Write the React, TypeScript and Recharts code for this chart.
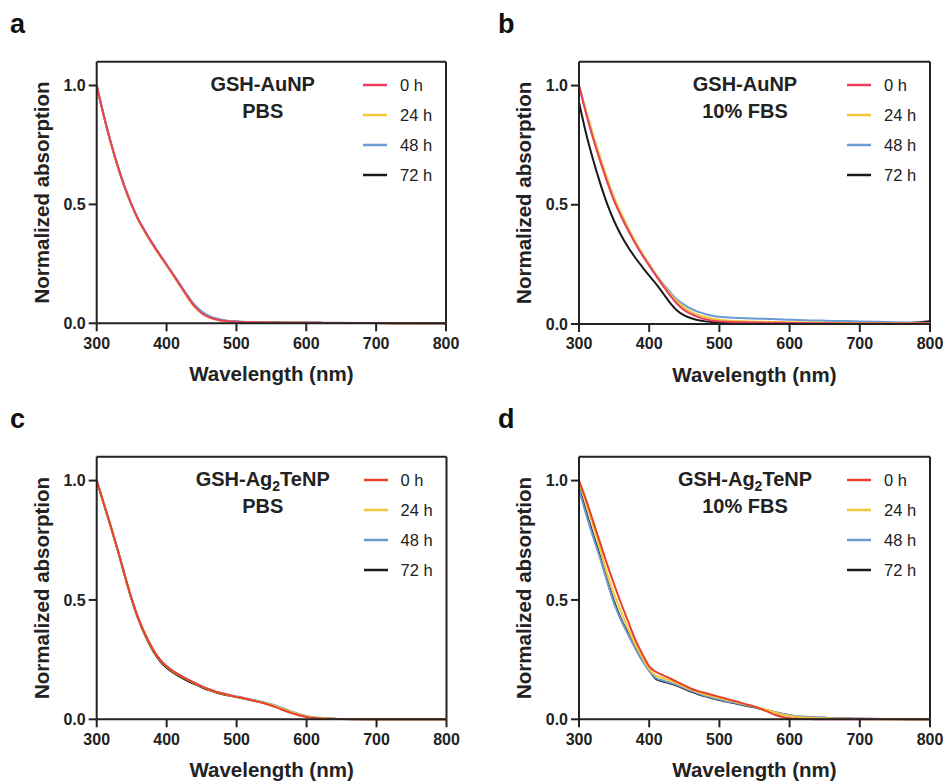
import React from 'react';
import { LineChart, Line, XAxis, YAxis, Legend, ReferenceLine } from 'recharts';

// ---------- data ----------
const WAVELENGTH = [
  300, 310, 320, 330, 340, 350, 360, 370, 380, 390,
  400, 410, 420, 430, 440, 450, 460, 470, 480, 490,
  500, 510, 520, 530, 540, 550, 560, 570, 580, 590,
  600, 610, 620, 630, 640, 650, 700, 750, 800,
];
const TIME_LABELS = ['0 h', '24 h', '48 h', '72 h'];
const X_TICKS = [300, 400, 500, 600, 700, 800];
const Y_TICKS = [0, 0.5, 1.0];

// Panel a: GSH-AuNP in PBS
const A_0H = [1.0, 0.875, 0.762, 0.662, 0.574, 0.498, 0.434, 0.382, 0.334, 0.289, 0.246, 0.202, 0.157, 0.112, 0.072, 0.044, 0.027, 0.017, 0.011, 0.008, 0.006, 0.005, 0.004, 0.004, 0.003, 0.003, 0.003, 0.002, 0.002, 0.002, 0.002, 0.002, 0.002, 0.001, 0.001, 0.001, 0.001, 0.0, 0.0];
const A_24H = [1.0, 0.873, 0.759, 0.659, 0.571, 0.495, 0.43, 0.378, 0.33, 0.285, 0.242, 0.198, 0.153, 0.108, 0.069, 0.042, 0.025, 0.016, 0.01, 0.007, 0.005, 0.004, 0.004, 0.003, 0.003, 0.003, 0.002, 0.002, 0.002, 0.002, 0.002, 0.001, 0.001, 0.001, 0.001, 0.001, 0.001, 0.0, 0.0];
const A_48H = [1.0, 0.876, 0.763, 0.663, 0.575, 0.5, 0.436, 0.384, 0.336, 0.291, 0.248, 0.205, 0.161, 0.117, 0.078, 0.05, 0.032, 0.021, 0.014, 0.01, 0.008, 0.006, 0.005, 0.005, 0.004, 0.004, 0.004, 0.003, 0.003, 0.003, 0.003, 0.003, 0.002, 0.002, 0.002, 0.002, 0.001, 0.001, 0.0];
const A_72H = [1.0, 0.875, 0.761, 0.661, 0.573, 0.497, 0.433, 0.381, 0.333, 0.288, 0.245, 0.202, 0.158, 0.114, 0.075, 0.047, 0.029, 0.019, 0.012, 0.009, 0.007, 0.005, 0.005, 0.004, 0.004, 0.003, 0.003, 0.003, 0.002, 0.002, 0.002, 0.002, 0.002, 0.001, 0.001, 0.001, 0.001, 0.0, 0.0];

// Panel b: GSH-AuNP in 10% FBS
const B_0H = [1.0, 0.885, 0.78, 0.685, 0.597, 0.517, 0.452, 0.393, 0.339, 0.29, 0.245, 0.201, 0.159, 0.119, 0.084, 0.058, 0.041, 0.029, 0.02, 0.014, 0.011, 0.009, 0.008, 0.007, 0.007, 0.006, 0.006, 0.005, 0.005, 0.005, 0.004, 0.004, 0.004, 0.003, 0.003, 0.003, 0.002, 0.002, 0.003];
const B_24H = [1.0, 0.895, 0.795, 0.702, 0.613, 0.532, 0.465, 0.404, 0.348, 0.297, 0.251, 0.206, 0.164, 0.126, 0.093, 0.068, 0.051, 0.038, 0.029, 0.022, 0.018, 0.015, 0.013, 0.012, 0.011, 0.01, 0.009, 0.009, 0.008, 0.008, 0.007, 0.007, 0.006, 0.006, 0.006, 0.005, 0.004, 0.003, 0.003];
const B_48H = [1.0, 0.886, 0.782, 0.69, 0.601, 0.521, 0.456, 0.396, 0.342, 0.293, 0.249, 0.206, 0.168, 0.133, 0.102, 0.08, 0.063, 0.051, 0.042, 0.035, 0.03, 0.028, 0.026, 0.025, 0.024, 0.023, 0.022, 0.021, 0.02, 0.019, 0.018, 0.017, 0.016, 0.015, 0.015, 0.014, 0.011, 0.007, 0.004];
const B_72H = [0.93, 0.8, 0.69, 0.592, 0.505, 0.432, 0.372, 0.322, 0.279, 0.24, 0.203, 0.167, 0.128, 0.088, 0.056, 0.036, 0.024, 0.016, 0.011, 0.008, 0.005, 0.004, 0.003, 0.003, 0.002, 0.002, 0.002, 0.002, 0.002, 0.001, 0.001, 0.001, 0.001, 0.001, 0.001, 0.001, 0.001, 0.002, 0.012];

// Panel c: GSH-Ag2TeNP in PBS
const C_0H = [1.0, 0.905, 0.81, 0.71, 0.605, 0.505, 0.42, 0.352, 0.295, 0.252, 0.222, 0.2, 0.183, 0.167, 0.152, 0.138, 0.126, 0.116, 0.108, 0.101, 0.094, 0.088, 0.081, 0.074, 0.066, 0.057, 0.046, 0.035, 0.025, 0.016, 0.01, 0.005, 0.003, 0.002, 0.001, 0.001, 0.0, 0.0, 0.0];
const C_24H = [1.0, 0.904, 0.809, 0.709, 0.604, 0.504, 0.419, 0.351, 0.294, 0.251, 0.221, 0.199, 0.182, 0.166, 0.151, 0.137, 0.125, 0.115, 0.107, 0.1, 0.094, 0.088, 0.082, 0.075, 0.068, 0.06, 0.05, 0.039, 0.029, 0.02, 0.013, 0.008, 0.005, 0.003, 0.002, 0.001, 0.0, 0.0, 0.0];
const C_48H = [1.0, 0.905, 0.81, 0.71, 0.605, 0.505, 0.42, 0.352, 0.295, 0.252, 0.222, 0.2, 0.183, 0.167, 0.152, 0.139, 0.127, 0.117, 0.109, 0.102, 0.096, 0.09, 0.084, 0.078, 0.071, 0.063, 0.053, 0.042, 0.031, 0.021, 0.014, 0.009, 0.006, 0.004, 0.002, 0.001, 0.0, 0.0, 0.0];
const C_72H = [1.0, 0.904, 0.808, 0.708, 0.602, 0.501, 0.415, 0.346, 0.289, 0.246, 0.216, 0.194, 0.177, 0.161, 0.147, 0.134, 0.122, 0.113, 0.105, 0.099, 0.093, 0.087, 0.081, 0.075, 0.068, 0.06, 0.05, 0.039, 0.028, 0.019, 0.012, 0.007, 0.004, 0.003, 0.002, 0.001, 0.0, 0.0, 0.0];

// Panel d: GSH-Ag2TeNP in 10% FBS
const D_0H = [1.0, 0.92, 0.83, 0.74, 0.65, 0.565, 0.485, 0.41, 0.335, 0.275, 0.222, 0.198, 0.184, 0.171, 0.157, 0.142, 0.128, 0.118, 0.11, 0.102, 0.094, 0.086, 0.078, 0.07, 0.061, 0.053, 0.042, 0.03, 0.018, 0.01, 0.004, 0.002, 0.001, 0.001, 0.0, 0.0, 0.0, 0.0, 0.0];
const D_24H = [0.99, 0.905, 0.812, 0.715, 0.61, 0.525, 0.45, 0.38, 0.315, 0.26, 0.21, 0.182, 0.172, 0.162, 0.15, 0.137, 0.124, 0.113, 0.104, 0.096, 0.089, 0.082, 0.075, 0.068, 0.061, 0.054, 0.046, 0.037, 0.028, 0.02, 0.014, 0.011, 0.008, 0.006, 0.005, 0.004, 0.001, 0.0, 0.0];
const D_48H = [0.965, 0.86, 0.765, 0.675, 0.578, 0.485, 0.415, 0.355, 0.298, 0.246, 0.203, 0.172, 0.162, 0.153, 0.143, 0.131, 0.119, 0.108, 0.098, 0.09, 0.083, 0.076, 0.07, 0.064, 0.058, 0.051, 0.044, 0.037, 0.03, 0.023, 0.017, 0.013, 0.011, 0.009, 0.008, 0.007, 0.002, 0.001, 0.0];
const D_72H = [0.975, 0.87, 0.775, 0.684, 0.584, 0.493, 0.42, 0.36, 0.302, 0.25, 0.205, 0.168, 0.158, 0.15, 0.14, 0.128, 0.116, 0.105, 0.096, 0.088, 0.081, 0.074, 0.068, 0.062, 0.056, 0.05, 0.043, 0.036, 0.029, 0.022, 0.016, 0.012, 0.01, 0.008, 0.007, 0.006, 0.002, 0.001, 0.0];

// ---------- styling ----------
const FONT = '"Liberation Sans", Arial, Helvetica, sans-serif';
const AXIS = '#222222';
const COLORS_AU = ['#e8405e', '#f2c83a', '#6b9bd2', '#1a1a1a'];
const COLORS_AG = ['#e8402c', '#f2c83a', '#6b9bd2', '#1a1a1a'];
const KEYS = ['h0', 'h24', 'h48', 'h72'];
const Y_AXIS_W = 40;
const X_AXIS_H = 30;

function buildRows(series: number[][]) {
  return WAVELENGTH.map((w, i) => ({
    w,
    h0: series[0][i],
    h24: series[1][i],
    h48: series[2][i],
    h72: series[3][i],
  }));
}

type PanelProps = {
  letter: string;
  left: number;
  top: number;
  width: number;
  height: number;
  plot: { top: number; right: number; bottom: number; left: number };
  data: any[];
  colors: string[];
  title1: React.ReactNode;
  title2: string;
  letterX: number;
};

function Panel(p: PanelProps) {
  const plotLeft = p.plot.left;
  const plotTop = p.plot.top;
  const plotRight = p.plot.right;
  const plotBottom = p.plot.bottom;
  const margin = {
    top: plotTop,
    left: plotLeft - Y_AXIS_W,
    right: p.width - plotRight,
    bottom: p.height - plotBottom - X_AXIS_H,
  };
  const cx = (plotLeft + plotRight) / 2;
  const cy = (plotTop + plotBottom) / 2;
  const annX = plotLeft + 166;

  const renderLegend = () => (
    <div style={{ fontFamily: FONT }}>
      {TIME_LABELS.map((lab, i) => (
        <div key={lab} style={{ display: 'flex', alignItems: 'center', height: 30 }}>
          <svg width={24} height={4} style={{ display: 'block' }}>
            <line x1={0} y1={2} x2={24} y2={2} stroke={p.colors[i]} strokeWidth={2.5} />
          </svg>
          <span style={{ marginLeft: 13, fontSize: 16.5, color: AXIS, lineHeight: '30px' }}>{lab}</span>
        </div>
      ))}
    </div>
  );

  const order = [3, 2, 1, 0];
  const tickStyle = { fontSize: 16, fontWeight: 'bold', fill: AXIS, fontFamily: FONT };

  return (
    <div style={{ position: 'absolute', left: p.left, top: p.top, width: p.width, height: p.height }}>
      <LineChart width={p.width} height={p.height} data={p.data} margin={margin}>
        <XAxis
          dataKey="w"
          type="number"
          domain={[300, 800]}
          ticks={X_TICKS}
          height={X_AXIS_H}
          tickSize={8}
          tickMargin={6}
          axisLine={{ stroke: AXIS, strokeWidth: 2 }}
          tickLine={{ stroke: AXIS, strokeWidth: 2 }}
          tick={tickStyle}
        />
        <YAxis
          type="number"
          domain={[0, 1.1]}
          ticks={Y_TICKS}
          width={Y_AXIS_W}
          tickSize={8}
          tickMargin={3}
          tickFormatter={(v: number) => v.toFixed(1)}
          axisLine={{ stroke: AXIS, strokeWidth: 2 }}
          tickLine={{ stroke: AXIS, strokeWidth: 2 }}
          tick={tickStyle}
        />
        <ReferenceLine y={1.1} stroke={AXIS} strokeWidth={2} />
        <ReferenceLine x={800} stroke={AXIS} strokeWidth={2} />
        {order.map((i) => (
          <Line
            key={KEYS[i]}
            dataKey={KEYS[i]}
            name={TIME_LABELS[i]}
            type="monotone"
            stroke={p.colors[i]}
            strokeWidth={2}
            dot={false}
            isAnimationActive={false}
          />
        ))}
        <Legend
          layout="vertical"
          align="center"
          verticalAlign="middle"
          wrapperStyle={{ left: plotRight - 83, top: plotTop + 8, width: 80, height: 120 }}
          content={renderLegend}
        />
        <text x={p.letterX} y={33} fontSize={27} fontWeight="bold" fill="#111" fontFamily={FONT}>
          {p.letter}
        </text>
        <text x={annX} y={plotTop + 29.5} fontSize={20} fontWeight="bold" fill={AXIS} fontFamily={FONT} textAnchor="middle">
          {p.title1}
        </text>
        <text x={annX} y={plotTop + 56.5} fontSize={20} fontWeight="bold" fill={AXIS} fontFamily={FONT} textAnchor="middle">
          {p.title2}
        </text>
        <text x={cx} y={plotBottom + 58} fontSize={20.5} fontWeight="bold" fill={AXIS} fontFamily={FONT} textAnchor="middle">
          Wavelength (nm)
        </text>
        <text
          x={plotLeft - 48}
          y={cy}
          fontSize={20.5}
          fontWeight="bold"
          fill={AXIS}
          fontFamily={FONT}
          textAnchor="middle"
          transform={`rotate(-90 ${plotLeft - 48} ${cy})`}
        >
          Normalized absorption
        </text>
      </LineChart>
    </div>
  );
}

const agTitle = (
  <>
    <tspan>GSH-Ag</tspan>
    <tspan fontSize={14} dy={5}>2</tspan>
    <tspan dy={-5}>TeNP</tspan>
  </>
);

export default function App() {
  const dataA = buildRows([A_0H, A_24H, A_48H, A_72H]);
  const dataB = buildRows([B_0H, B_24H, B_48H, B_72H]);
  const dataC = buildRows([C_0H, C_24H, C_48H, C_72H]);
  const dataD = buildRows([D_0H, D_24H, D_48H, D_72H]);

  return (
    <div style={{ position: 'absolute', left: 0, top: 0, width: 946, height: 783, background: '#ffffff', overflow: 'hidden', fontFamily: FONT }}>
      <Panel letter="a" letterX={10} left={0} top={0} width={470} height={395}
        plot={{ top: 61.7, right: 446, bottom: 323.3, left: 96.7 }}
        data={dataA} colors={COLORS_AU} title1="GSH-AuNP" title2="PBS" />
      <Panel letter="b" letterX={18} left={480} top={0} width={466} height={395}
        plot={{ top: 61.7, right: 450, bottom: 324, left: 99 }}
        data={dataB} colors={COLORS_AU} title1="GSH-AuNP" title2="10% FBS" />
      <Panel letter="c" letterX={10} left={0} top={395} width={470} height={388}
        plot={{ top: 61.7, right: 446.5, bottom: 324.3, left: 96.7 }}
        data={dataC} colors={COLORS_AG} title1={agTitle} title2="PBS" />
      <Panel letter="d" letterX={18} left={480} top={395} width={466} height={388}
        plot={{ top: 61.7, right: 450, bottom: 324.3, left: 99 }}
        data={dataD} colors={COLORS_AG} title1={agTitle} title2="10% FBS" />
    </div>
  );
}
